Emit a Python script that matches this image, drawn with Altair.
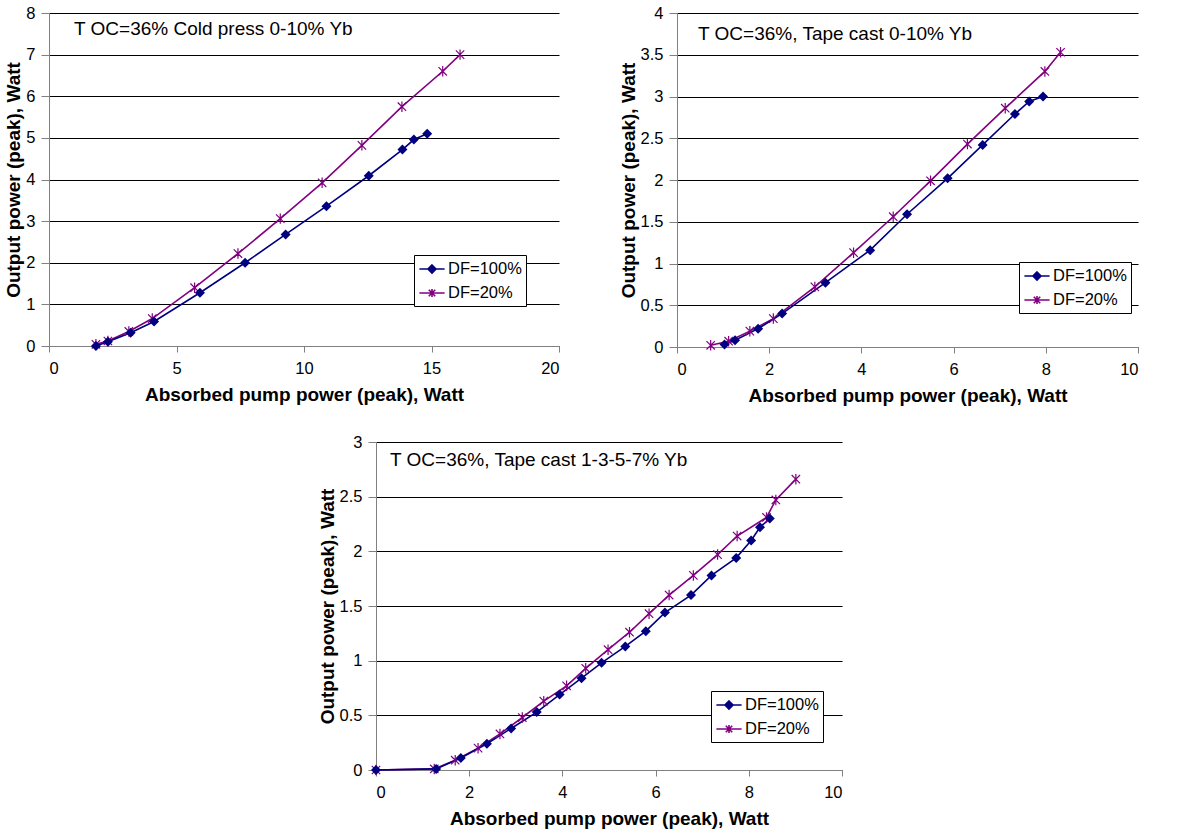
import altair as alt
import pandas as pd

NAVY = "#000080"
PURPLE = "#800080"
SERIES = ["DF=100%", "DF=20%"]

# Panel 1: T OC=36% Cold press 0-10% Yb
p1_x100 = [1.84, 2.31, 3.20, 4.12, 5.92, 7.69, 9.28, 10.88, 12.54, 13.86, 14.31, 14.83]
p1_y100 = [0.00, 0.10, 0.32, 0.59, 1.28, 2.00, 2.68, 3.36, 4.09, 4.72, 4.96, 5.10]
p1_x20 = [1.84, 2.31, 3.13, 4.05, 5.71, 7.41, 9.07, 10.71, 12.27, 13.84, 15.44, 16.12]
p1_y20 = [0.04, 0.12, 0.35, 0.66, 1.40, 2.22, 3.06, 3.92, 4.82, 5.75, 6.60, 7.00]

# Panel 2: T OC=36%, Tape cast 0-10% Yb
p2_x100 = [1.03, 1.26, 1.76, 2.28, 3.22, 4.19, 4.99, 5.87, 6.63, 7.33, 7.64, 7.94]
p2_y100 = [0.03, 0.08, 0.22, 0.40, 0.77, 1.16, 1.59, 2.02, 2.42, 2.79, 2.94, 3.00]
p2_x20 = [0.73, 1.12, 1.58, 2.09, 2.99, 3.83, 4.69, 5.50, 6.30, 7.12, 7.98, 8.32]
p2_y20 = [0.02, 0.07, 0.19, 0.34, 0.72, 1.13, 1.56, 1.99, 2.43, 2.86, 3.30, 3.53]

# Panel 3: T OC=36%, Tape cast 1-3-5-7% Yb
p3_x100 = [0.00, 1.29, 1.82, 2.38, 2.90, 3.45, 3.94, 4.41, 4.84, 5.35, 5.79, 6.20, 6.76, 7.20, 7.73, 8.05, 8.24, 8.45]
p3_y100 = [0.00, 0.01, 0.11, 0.24, 0.38, 0.53, 0.69, 0.84, 0.98, 1.13, 1.27, 1.44, 1.60, 1.78, 1.94, 2.10, 2.22, 2.30]
p3_x20 = [0.00, 1.25, 1.70, 2.19, 2.66, 3.14, 3.60, 4.09, 4.50, 4.98, 5.44, 5.86, 6.29, 6.81, 7.33, 7.75, 8.38, 8.58, 9.01]
p3_y20 = [0.00, 0.01, 0.09, 0.20, 0.33, 0.48, 0.63, 0.77, 0.93, 1.10, 1.26, 1.43, 1.60, 1.78, 1.97, 2.14, 2.31, 2.47, 2.66]

X_TITLE = "Absorbed pump power (peak), Watt"
Y_TITLE = "Output power (peak), Watt"
FONT = "Liberation Sans"

STAR = "M-0.8,-0.8L0.8,0.8M-0.8,0.8L0.8,-0.8M0,-1V1"
LEG_DIAMOND = "M-1.4,0H1.4M0,-0.45L0.45,0L0,0.45L-0.45,0Z"
LEG_STAR = "M-1.4,0H1.4M-0.36,-0.36L0.36,0.36M-0.36,0.36L0.36,-0.36M0,-0.45V0.45"


def panel(x100, y100, x20, y20, xmax, xstep, ymax, ystep, w, h, label,
          legx, legy, annx, anny):
    xticks = [i * xstep for i in range(int(round(xmax / xstep)) + 1)]
    yticks = [round(i * ystep, 2) for i in range(int(round(ymax / ystep)) + 1)]
    xenc = alt.X("x:Q", scale=alt.Scale(domain=[0, xmax], nice=False),
                 axis=alt.Axis(values=xticks, title=X_TITLE, grid=False, format="~r",
                               tickSize=6, labelPadding=8, titlePadding=9))
    yenc = alt.Y("y:Q", scale=alt.Scale(domain=[0, ymax], nice=False),
                 axis=alt.Axis(values=yticks, title=Y_TITLE, grid=True, format="~r",
                               tickSize=8, labelPadding=6, titlePadding=2))
    d100 = pd.DataFrame({"x": x100, "y": y100})
    d20 = pd.DataFrame({"x": x20, "y": y20})
    l100 = alt.Chart(d100).mark_line(color=NAVY, strokeWidth=1.6).encode(x=xenc, y=yenc)
    l20 = alt.Chart(d20).mark_line(color=PURPLE, strokeWidth=1.6).encode(x=xenc, y=yenc)
    m100 = alt.Chart(d100).mark_point(shape="diamond", filled=True, size=100,
                                      color=NAVY, opacity=1).encode(x=xenc, y=yenc)
    m20 = alt.Chart(d20).mark_point(shape=STAR, filled=False, size=110,
                                    color=PURPLE, strokeWidth=1.2, opacity=1).encode(x=xenc, y=yenc)
    leg = alt.Legend(title=None, orient="none", legendX=legx, legendY=legy,
                     strokeColor="black", fillColor="white", padding=4,
                     rowPadding=5, symbolSize=324, symbolStrokeWidth=1.6,
                     symbolOffset=4, labelOffset=6, labelFontSize=16.5,
                     labelFont=FONT, labelColor="black", symbolOpacity=1)
    dleg = pd.DataFrame({"series": SERIES, "x": [-1000, -1000], "y": [-1000, -1000]})
    legend_layer = alt.Chart(dleg).mark_point(clip=True, size=324, strokeWidth=1.6, opacity=1).encode(
        x=xenc, y=yenc,
        shape=alt.Shape("series:N", scale=alt.Scale(domain=SERIES, range=[LEG_DIAMOND, LEG_STAR]), legend=leg),
        stroke=alt.Stroke("series:N", scale=alt.Scale(domain=SERIES, range=[NAVY, PURPLE]), legend=leg),
        fill=alt.Fill("series:N", scale=alt.Scale(domain=SERIES, range=[NAVY, "transparent"]), legend=leg),
    )
    ann = alt.Chart(pd.DataFrame({"t": [label]})).mark_text(
        align="left", baseline="middle", fontSize=19, font=FONT, color="black"
    ).encode(x=alt.value(annx), y=alt.value(anny), text="t:N")
    return alt.layer(l20, l100, m20, m100, legend_layer, ann).properties(width=w, height=h)


p1 = panel(p1_x100, p1_y100, p1_x20, p1_y20, 20, 5, 8, 1, 510, 333,
           "T OC=36% Cold press 0-10% Yb", 365, 242, 25, 16)
p2 = panel(p2_x100, p2_y100, p2_x20, p2_y20, 10, 2, 4, 0.5, 461, 334,
           "T OC=36%, Tape cast 0-10% Yb", 342, 249, 21, 21)
p3 = panel(p3_x100, p3_y100, p3_x20, p3_y20, 10, 2, 3, 0.5, 466, 328,
           "T OC=36%, Tape cast 1-3-5-7% Yb", 335, 249, 14, 18)

spacer = alt.Chart(pd.DataFrame({"a": [0]})).mark_point(opacity=0).properties(width=269, height=10)
bottom = alt.hconcat(spacer, p3, spacing=0)

indep = dict(shape="independent", stroke="independent", fill="independent")
top = alt.hconcat(p1, p2, spacing=59).resolve_scale(**indep).resolve_legend(**indep)
bottom = bottom.resolve_scale(**indep).resolve_legend(**indep)
chart = alt.vconcat(top, bottom, spacing=28).resolve_scale(**indep).resolve_legend(**indep)

chart = chart.properties(
    padding={"left": 4, "top": 5, "right": 5, "bottom": 5}, background="white"
).configure_view(
    stroke=None
).configure_axis(
    labelFont=FONT, titleFont=FONT, labelFontSize=16.5, titleFontSize=19,
    titleFontWeight="bold", labelColor="black", titleColor="black",
    domainColor="#808080", tickColor="#808080",
    gridColor="black", gridOpacity=1, gridWidth=1,
)

chart.save("out.html", embed_options={"renderer": "svg", "actions": False})
